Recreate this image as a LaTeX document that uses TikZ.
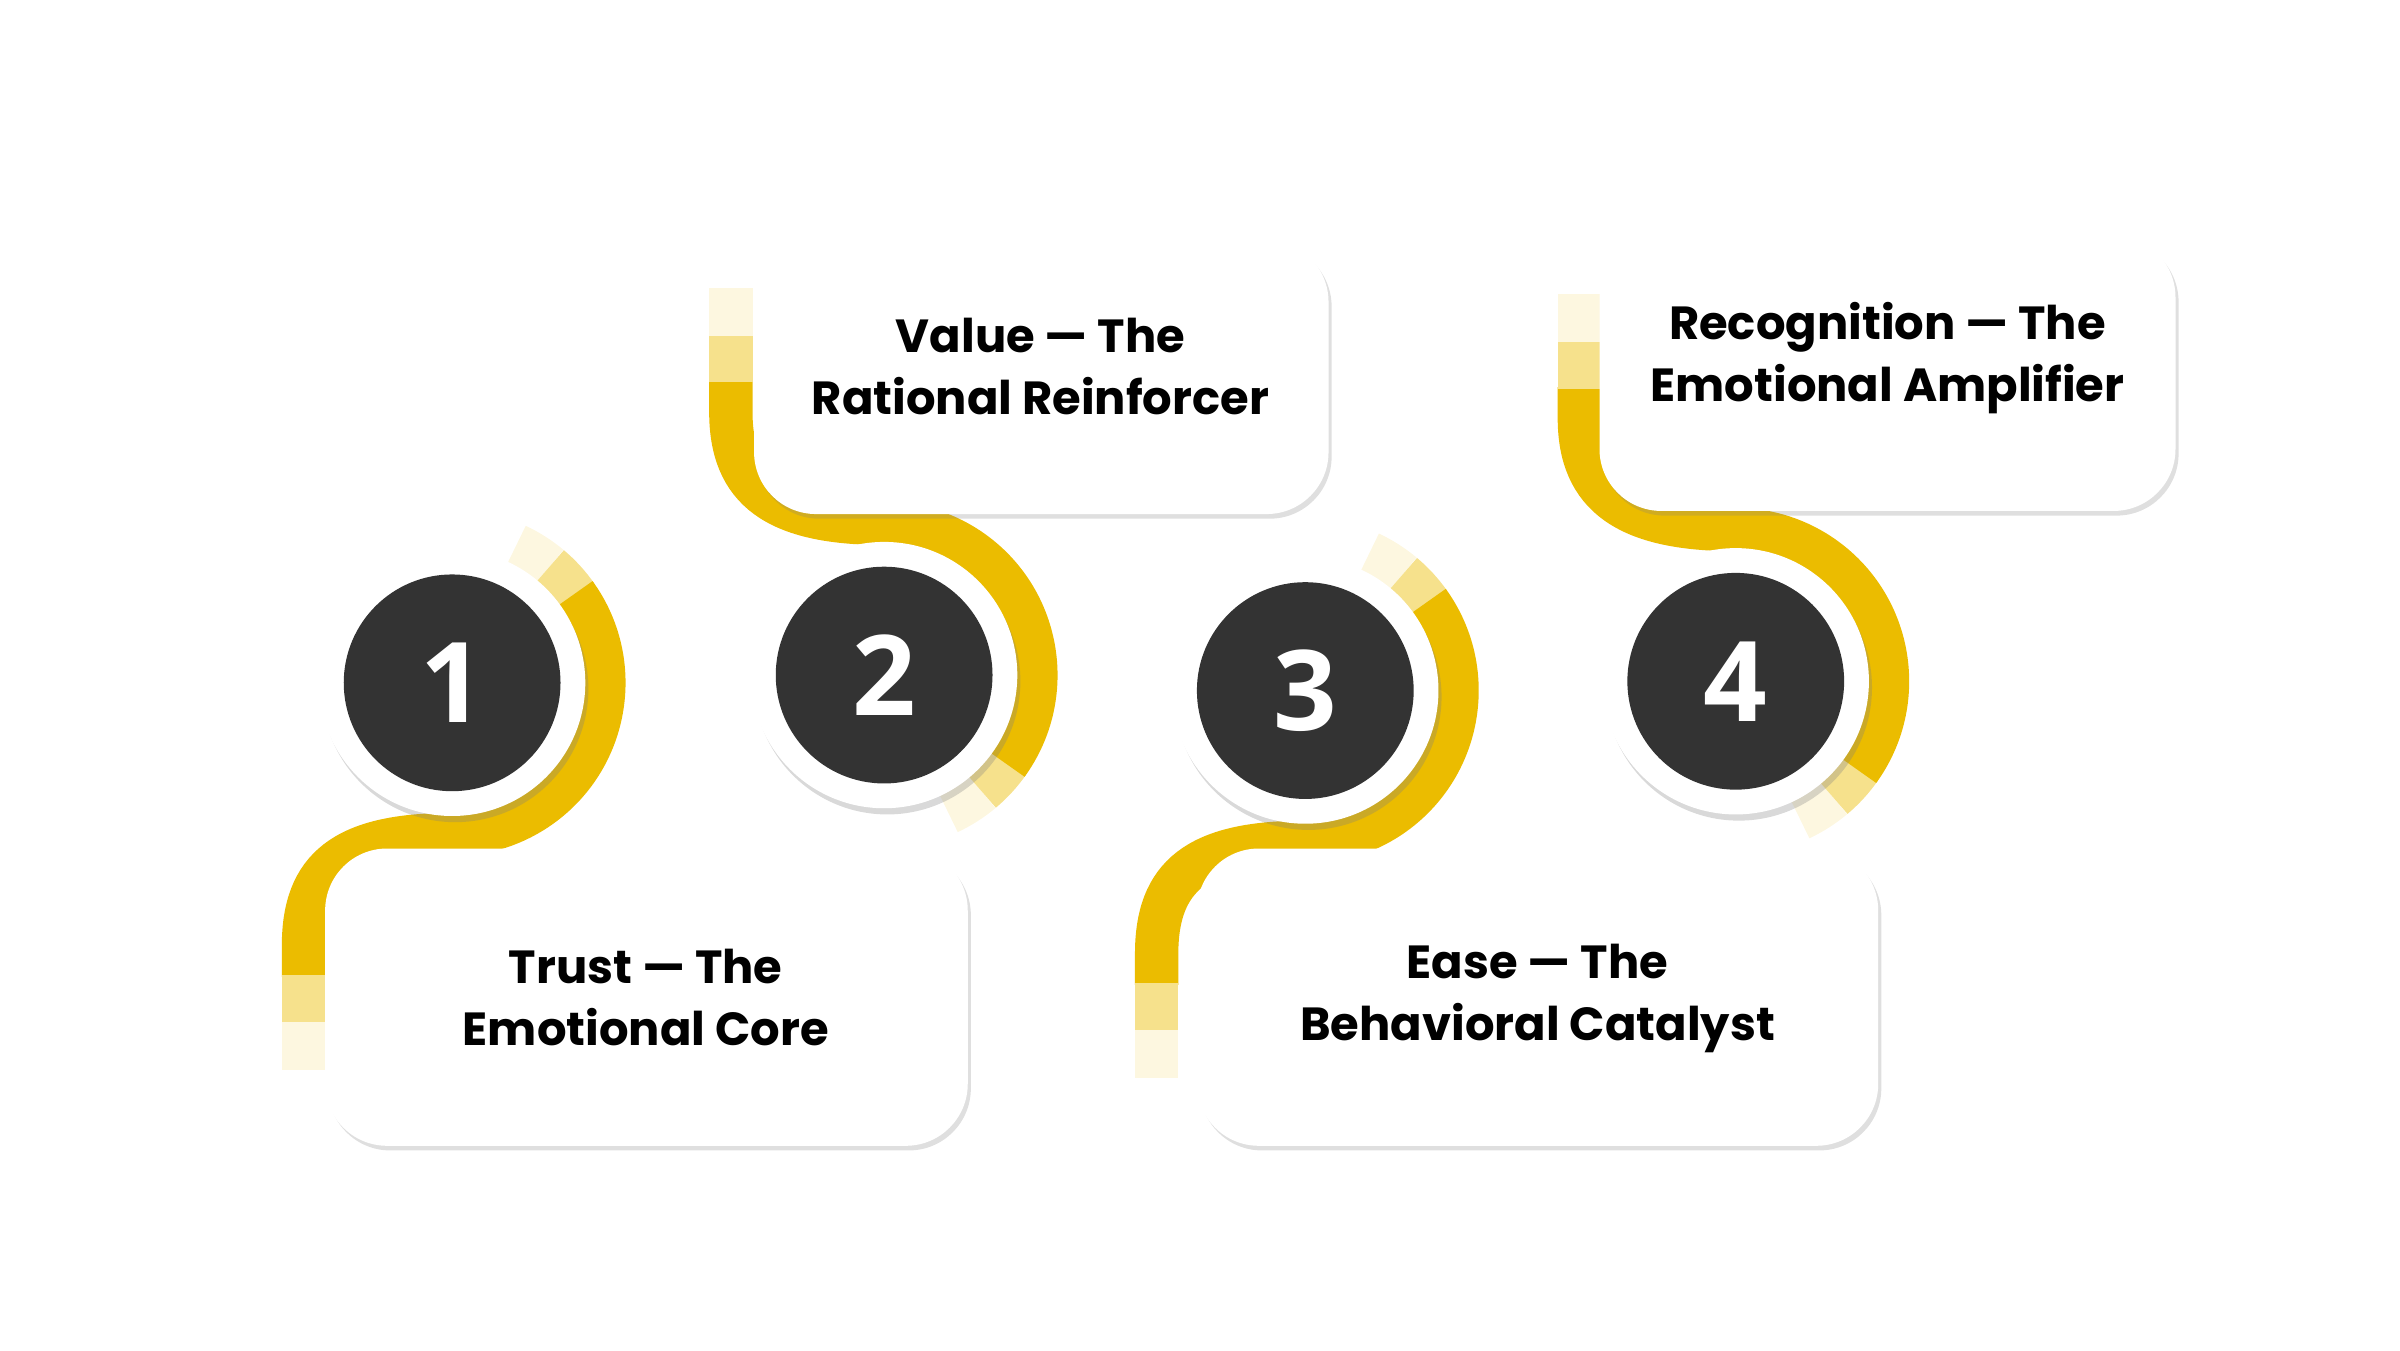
\documentclass[tikz,border=0pt]{standalone}
\usepackage{fontspec}
\setmainfont{Poppins}
\newfontfamily\numfont{Open Sans}
\usetikzlibrary{shadows}
\definecolor{ylw}{HTML}{EBBC00}
\definecolor{dk}{HTML}{333333}
\tikzset{
 card/.style={fill=white,rounded corners=40pt,drop shadow={opacity=0.25,shadow xshift=2pt,shadow yshift=-3pt}},
 ring/.style={circle,fill=white,minimum size=172pt,inner sep=0pt,drop shadow={opacity=0.3,shadow xshift=2pt,shadow yshift=-4pt}},
 disc/.style={circle,fill=dk,minimum size=140pt,inner sep=0pt,text=white,font=\numfont\bfseries\fontsize{72}{72}\selectfont},
 lbl/.style={align=center,font=\fontsize{30}{40}\selectfont\bfseries,text=black},
 band/.style={line width=28pt,draw=ylw}
}
\begin{document}
\begin{tikzpicture}[x=1pt,y=1pt]
\useasboundingbox (0,0) rectangle (1550,872);
% bands: down type (1,3)
\foreach \cx/\cy/\lx in {292/431/196, 843/426/747}{
 \draw[line width=28pt,draw=ylw!12] (\cx,\cy) ++(65:98) arc (65:50:98);
 \draw[line width=28pt,draw=ylw!45] (\cx,\cy) ++(50:98) arc (50:35:98);
 \draw[band] (\cx,\cy) ++(36:98) arc (36:-90:98) .. controls ++(-70,0) and (\lx,\cy-120) .. (\lx,\cy-170) -- (\lx,\cy-190);
 \draw[line width=28pt,draw=ylw!45] (\lx,\cy-189) -- (\lx,\cy-220);
 \draw[line width=28pt,draw=ylw!12] (\lx,\cy-219) -- (\lx,\cy-250);
}
% up type (2,4)
\foreach \cx/\cy/\lx in {571/436/472, 1121/432/1020}{
 \draw[line width=28pt,draw=ylw!12] (\cx,\cy) ++(-65:98) arc (-65:-50:98);
 \draw[line width=28pt,draw=ylw!45] (\cx,\cy) ++(-50:98) arc (-50:-35:98);
 \draw[band] (\cx,\cy) ++(-36:98) arc (-36:90:98) .. controls ++(-70,0) and (\lx,\cy+120) .. (\lx,\cy+170) -- (\lx,\cy+190);
 \draw[line width=28pt,draw=ylw!45] (\lx,\cy+189) -- (\lx,\cy+220);
 \draw[line width=28pt,draw=ylw!12] (\lx,\cy+219) -- (\lx,\cy+250);
}
% cards
\path[card] (210,132) rectangle (625,324);
\path[card] (487,540) rectangle (858,717);
\path[card] (773,132) rectangle (1213,324);
\path[card] (1033,542) rectangle (1405,720);
\node[lbl] (t1) at (417,228) {Trust — The\\Emotional Core};
\node[lbl] (t2) at (672,635) {Value — The\\Rational Reinforcer};
\node[lbl] (t3) at (993,227) {Ease — The\\Behavioral Catalyst};
\node[lbl] (t4) at (1219,641) {Recognition — The\\Emotional Amplifier};
% circles
\node[ring] (r1) at (292,431) {};
\node[disc] (c1) at (292,431) {1};
\node[ring] (r2) at (571,436) {};
\node[disc] (c2) at (571,436) {2};
\node[ring] (r3) at (843,426) {};
\node[disc] (c3) at (843,426) {3};
\node[ring] (r4) at (1121,432) {};
\node[disc] (c4) at (1121,432) {4};
\end{tikzpicture}
\end{document}
